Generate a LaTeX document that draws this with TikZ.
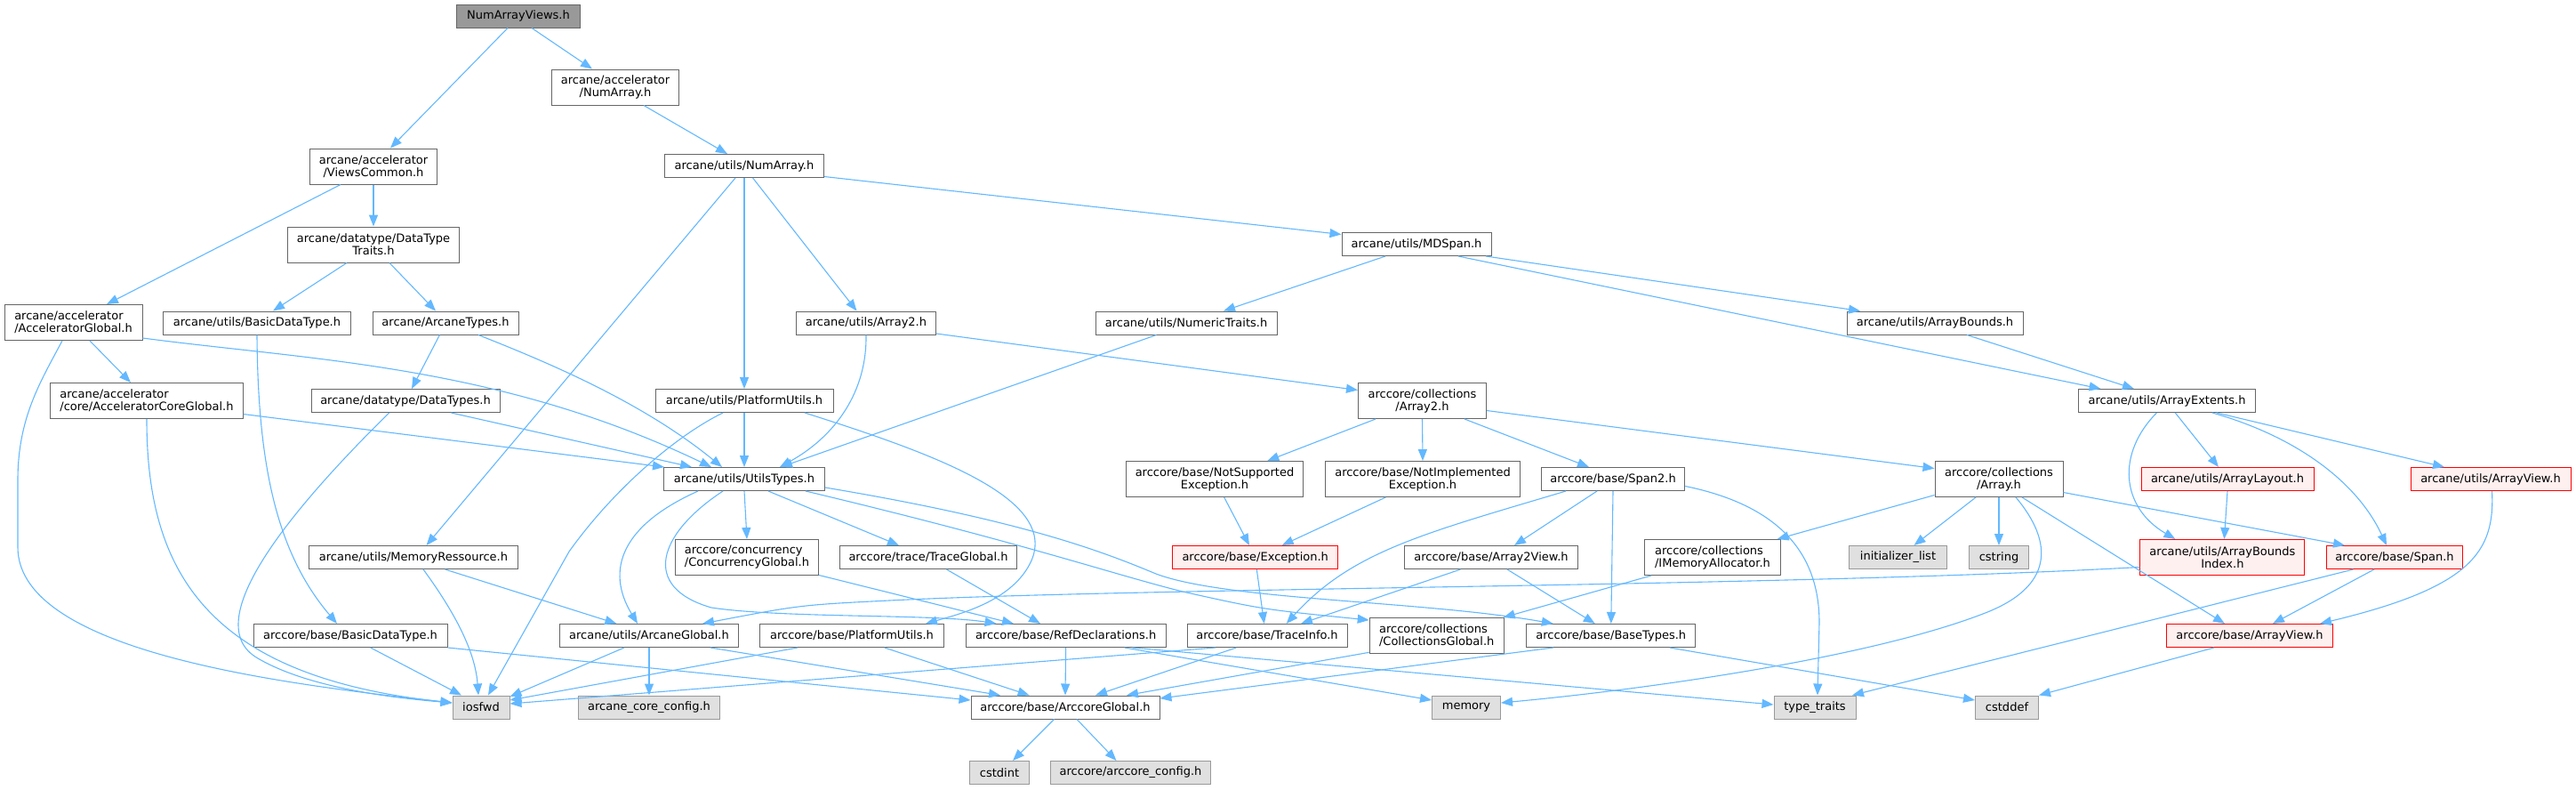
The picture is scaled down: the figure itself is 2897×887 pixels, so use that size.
\documentclass[tikz,border=0pt]{standalone}
\usepackage{fontspec}
\setmainfont{DejaVu Sans}
\usepackage{tikz}
\usetikzlibrary{arrows.meta}
\definecolor{incblue}{HTML}{63B8FF}
\definecolor{hdrline}{HTML}{666666}
\definecolor{sysline}{HTML}{999999}
\definecolor{sysfill}{HTML}{E0E0E0}
\definecolor{truncfill}{HTML}{FFF0F0}
\definecolor{rootfill}{HTML}{999999}

\begin{document}
\begin{tikzpicture}[x=1pt, y=-1pt,
  hdr/.style={draw=hdrline, fill=white, line width=1pt, inner sep=0pt, minimum height=26, font=\fontsize{13}{14}\selectfont},
  sys/.style={hdr, draw=sysline, fill=sysfill},
  trunc/.style={hdr, draw=red, fill=truncfill},
  root/.style={hdr, fill=rootfill},
  two/.style={minimum height=40, align=center},
  wd/.style={minimum width=#1},
  inc/.style={draw=incblue, line width=1.1pt, -{Triangle[length=13pt,width=10pt]}}]
  \useasboundingbox (0,0) rectangle (2897,887);

  \node[root, wd=139] (nav) at (583,18) {NumArrayViews.h};
  \node[hdr, wd=143, two] (ana) at (692,98) {arcane/accelerator\\/NumArray.h};
  \node[hdr, wd=143, two] (vc) at (420,187) {arcane/accelerator\\/ViewsCommon.h};
  \node[hdr, wd=179] (una) at (837,186.5) {arcane/utils/NumArray.h};
  \node[hdr, wd=193, two] (dtt) at (420,275) {arcane/datatype/DataType\\Traits.h};
  \node[hdr, wd=168] (mds) at (1593,274.5) {arcane/utils/MDSpan.h};
  \node[hdr, wd=155, two, align=left] (ag) at (82.5,362.5) {arcane/accelerator\\/AcceleratorGlobal.h};
  \node[hdr, wd=211] (ubdt) at (289,363) {arcane/utils/BasicDataType.h};
  \node[hdr, wd=164] (atyp) at (501,363) {arcane/ArcaneTypes.h};
  \node[hdr, wd=157] (ua2) at (974,363) {arcane/utils/Array2.h};
  \node[hdr, wd=204] (nt) at (1334,363) {arcane/utils/NumericTraits.h};
  \node[hdr, wd=198] (ab) at (2176,363) {arcane/utils/ArrayBounds.h};
  \node[hdr, wd=216.5, two, align=left] (acg) at (165,450.5) {arcane/accelerator\\/core/AcceleratorCoreGlobal.h};
  \node[hdr, wd=212] (dt) at (456,450.5) {arcane/datatype/DataTypes.h};
  \node[hdr, wd=200] (upu) at (837,450.5) {arcane/utils/PlatformUtils.h};
  \node[hdr, wd=144, two] (ca2) at (1599.5,450.5) {arccore/collections\\/Array2.h};
  \node[hdr, wd=199] (ae) at (2437,450.5) {arcane/utils/ArrayExtents.h};
  \node[hdr, wd=181] (ut) at (837,538.5) {arcane/utils/UtilsTypes.h};
  \node[hdr, wd=199, two] (nse) at (1366,538.5) {arccore/base/NotSupported\\Exception.h};
  \node[hdr, wd=219, two] (nie) at (1600,538.5) {arccore/base/NotImplemented\\Exception.h};
  \node[hdr, wd=161.5] (sp2) at (1814,538.5) {arccore/base/Span2.h};
  \node[hdr, wd=144, two] (ca) at (2248,538.5) {arccore/collections\\/Array.h};
  \node[trunc, wd=194] (al) at (2505,538.5) {arcane/utils/ArrayLayout.h};
  \node[trunc, wd=180] (uav) at (2801,538.5) {arcane/utils/ArrayView.h};
  \node[hdr, wd=235] (mr) at (465,626.5) {arcane/utils/MemoryRessource.h};
  \node[hdr, wd=161, two, align=left] (cg) at (840,626.5) {arccore/concurrency\\/ConcurrencyGlobal.h};
  \node[hdr, wd=199] (tg) at (1044,626.5) {arccore/trace/TraceGlobal.h};
  \node[trunc, wd=186] (exc) at (1411.7,626.5) {arccore/base/Exception.h};
  \node[hdr, wd=195] (a2v) at (1677,626.5) {arccore/base/Array2View.h};
  \node[hdr, wd=153, two, align=left] (ima) at (1926,626.5) {arccore/collections\\/IMemoryAllocator.h};
  \node[sys, wd=110.6] (il) at (2134.5,626.5) {initializer\_list};
  \node[sys, wd=66.6] (cstr) at (2248,626.5) {cstring};
  \node[trunc, wd=185, two] (abi) at (2499.4,626.5) {arcane/utils/ArrayBounds\\Index.h};
  \node[trunc, wd=153] (sp) at (2693,626.5) {arccore/base/Span.h};
  \node[hdr, wd=218] (cbdt) at (394,714.5) {arccore/base/BasicDataType.h};
  \node[hdr, wd=201] (arg) at (730,714.5) {arcane/utils/ArcaneGlobal.h};
  \node[hdr, wd=207] (cpu) at (958,714.5) {arccore/base/PlatformUtils.h};
  \node[hdr, wd=225] (rd) at (1198.6,714.5) {arccore/base/RefDeclarations.h};
  \node[hdr, wd=180] (ti) at (1425,714.5) {arccore/base/TraceInfo.h};
  \node[hdr, wd=151, two, align=left] (cg2) at (1615.7,714.5) {arccore/collections\\/CollectionsGlobal.h};
  \node[hdr, wd=190] (bt) at (1811.8,714.5) {arccore/base/BaseTypes.h};
  \node[trunc, wd=187] (cav) at (2530,714.5) {arccore/base/ArrayView.h};
  \node[sys, wd=64] (ios) at (541,795) {iosfwd};
  \node[sys, wd=159] (acc) at (730,795) {arcane\_core\_config.h};
  \node[hdr, wd=212] (arcg) at (1198,795) {arccore/base/ArccoreGlobal.h};
  \node[sys, wd=77] (mem) at (1649,795) {memory};
  \node[sys, wd=92] (tt) at (2041,795) {type\_traits};
  \node[sys, wd=71] (cdef) at (2257,795) {cstddef};
  \node[sys, wd=66.6] (cint) at (1124,868.5) {cstdint};
  \node[sys, wd=180] (aconf) at (1271.5,868.5) {arccore/arccore\_config.h};

  \draw[inc] ([xshift=-12]nav.south) -- ([xshift=19]vc.north);
  \draw[inc] ([xshift=15]nav.south) -- ([xshift=-26]ana.north);
  \draw[inc] ([xshift=32]ana.south) -- ([xshift=-19]una.north);
  \draw[inc] ([xshift=-37]vc.south) -- ([xshift=37.5]ag.north);
  \draw[inc] (vc.south) -- (dtt.north);
  \draw[inc] ([xshift=-30]dtt.south) -- ([xshift=18]ubdt.north);
  \draw[inc] ([xshift=18]dtt.south) -- ([xshift=-11]atyp.north);
  \draw[inc] ([xshift=18.5]ag.south) -- ([xshift=-18]acg.north);
  \draw[inc] ([xshift=-12.5]ag.south) .. controls (45,430) and (20,470) .. (20,540) -- (20,615) .. controls (20,735) and (330,770) .. ([yshift=5]ios.west);
  \draw[inc] ([yshift=-17.5]ag.east) .. controls (350,405) and (560,410) .. ([xshift=-37]ut.north);
  \draw[inc] (ubdt.south) .. controls (290,520) and (310,620) .. ([xshift=-15]cbdt.north);
  \draw[inc] ([xshift=-6.6]atyp.south) -- ([xshift=7]dt.north);
  \draw[inc] ([xshift=37]atyp.south) .. controls (610,405) and (720,450) .. ([xshift=-25]ut.north);
  \draw[inc] ([xshift=-10]una.south) -- ([xshift=14.5]mr.north);
  \draw[inc] (una.south) -- (upu.north);
  \draw[inc] ([xshift=9.6]una.south) -- ([xshift=-10.5]ua2.north);
  \draw[inc] ([yshift=-12]una.east) -- ([yshift=11]mds.west);
  \draw[inc] (ua2.south) .. controls (975,440) and (940,490) .. ([xshift=40]ut.north);
  \draw[inc] ([yshift=-12]ua2.east) -- ([yshift=12]ca2.west);
  \draw[inc] ([xshift=-35]mds.south) -- ([xshift=42]nt.north);
  \draw[inc] ([xshift=78]mds.south) -- ([xshift=-84]ab.north);
  \draw[inc] ([xshift=47]mds.south) -- ([xshift=-74.5]ae.north);
  \draw[inc] ([xshift=-33.5]nt.south) -- ([xshift=41]ut.north);
  \draw[inc] ([xshift=36]ab.south) -- ([xshift=-37]ae.north);
  \draw[inc] (acg.south) .. controls (165,640) and (230,760) .. ([yshift=5]ios.west);
  \draw[inc] ([yshift=-15]acg.east) -- ([xshift=-90]ut.north);
  \draw[inc] ([xshift=-18.4]dt.south) .. controls (330,570) and (220,700) .. (290,740) .. controls (350,775) and (450,785) .. ([yshift=5]ios.west);
  \draw[inc] ([xshift=51.4]dt.south) -- ([xshift=-59]ut.north);
  \draw[inc] (upu.south) -- (ut.north);
  \draw[inc] ([xshift=-24]upu.south) .. controls (760,490) and (690,550) .. (640,620) -- ([xshift=8]ios.north);
  \draw[inc] ([xshift=68]upu.south) .. controls (1050,510) and (1190,560) .. (1160,630) .. controls (1140,675) and (1080,690) .. ([xshift=83]cpu.north);
  \draw[inc] ([xshift=-52.5]ca2.south) -- ([xshift=59.3]nse.north);
  \draw[inc] (ca2.south) -- (nie.north);
  \draw[inc] ([xshift=47.5]ca2.south) -- ([xshift=-27]sp2.north);
  \draw[inc] ([yshift=-11]ca2.east) -- ([yshift=12]ca.west);
  \draw[inc] ([xshift=-11.6]ae.south) .. controls (2380,510) and (2385,570) .. ([xshift=-53]abi.north);
  \draw[inc] ([xshift=9.3]ae.south) -- ([xshift=-10]al.north);
  \draw[inc] ([xshift=51]ae.south) .. controls (2580,490) and (2650,540) .. ([xshift=-9]sp.north);
  \draw[inc] ([xshift=56]ae.south) -- ([xshift=-52]uav.north);
  \draw[inc] (ut.south) -- (cg.north);
  \draw[inc] ([xshift=27]ut.south) -- ([xshift=-33]tg.north);
  \draw[inc] ([xshift=-52]ut.south) .. controls (700,590) and (680,640) .. ([xshift=-13]arg.north);
  \draw[inc] ([xshift=-24]ut.south) .. controls (740,600) and (720,660) .. (800,683) .. controls (880,695) and (1050,690) .. ([xshift=-78]rd.north);
  \draw[inc] ([yshift=-9.5]ut.east) .. controls (1150,585) and (1240,620) .. (1300,645) .. controls (1380,675) and (1600,675) .. ([xshift=-65]bt.north);
  \draw[inc] ([xshift=69]ut.south) .. controls (1150,610) and (1250,645) .. (1330,665) .. controls (1420,685) .. ([yshift=17.5]cg2.west);
  \draw[inc] ([xshift=10.7]nse.south) -- ([xshift=-6.7]exc.north);
  \draw[inc] ([xshift=-41.7]nie.south) -- ([xshift=30]exc.north);
  \draw[inc] ([xshift=-53]sp2.south) .. controls (1600,600) and (1520,620) .. ([xshift=21.7]ti.north);
  \draw[inc] ([xshift=-18]sp2.south) -- ([xshift=26]a2v.north);
  \draw[inc] (sp2.south) -- (bt.north);
  \draw[inc] ([yshift=-8]sp2.east) .. controls (2010,570) and (2046,630) .. (2046,700) -- ([xshift=3]tt.north);
  \draw[inc] ([xshift=1.6]exc.south) -- ([xshift=-3.3]ti.north);
  \draw[inc] ([xshift=-34.5]a2v.south) -- ([xshift=38]ti.north);
  \draw[inc] ([xshift=18]a2v.south) -- ([xshift=-18]bt.north);
  \draw[inc] ([xshift=-69]ima.south) -- ([xshift=75]cg2.north);
  \draw[inc] ([yshift=-18]ca.west) -- ([xshift=72.6]ima.north);
  \draw[inc] ([xshift=-26]ca.south) -- ([xshift=18]il.north);
  \draw[inc] (ca.south) -- (cstr.north);
  \draw[inc] ([xshift=19]ca.south) .. controls (2310,610) and (2310,660) .. (2230,690) .. controls (2100,740) and (1850,775) .. ([yshift=5]mem.east);
  \draw[inc] ([xshift=26]ca.south) -- ([xshift=-28]cav.north);
  \draw[inc] ([yshift=-15]ca.east) -- ([xshift=-56]sp.north);
  \draw[inc] (al.south) -- ([xshift=2]abi.north);
  \draw[inc] ([yshift=-11]abi.west) .. controls (2000,660) and (1300,660) .. (1000,675) .. controls (900,680) .. ([xshift=60]arg.north);
  \draw[inc] ([xshift=-23]sp.south) -- ([xshift=26]cav.north);
  \draw[inc] ([xshift=-46.5]sp.south) -- ([xshift=42]tt.north);
  \draw[inc] ([xshift=1.5]uav.south) .. controls (2806,620) and (2780,660) .. ([xshift=79]cav.north);
  \draw[inc] ([xshift=-40]cav.south) -- (cdef.north east);
  \draw[inc] ([xshift=66]bt.south) -- ([yshift=8]cdef.west);
  \draw[inc] ([xshift=-65]bt.south) -- ([yshift=10]arcg.east);
  \draw[inc] ([yshift=-18.8]cg2.west) -- ([xshift=69]arcg.north);
  \draw[inc] ([xshift=-34.6]ti.south) -- ([xshift=34]arcg.north);
  \draw[inc] ([xshift=-58]ti.south) -- ([yshift=4]ios.east);
  \draw[inc] (rd.south) -- (arcg.north);
  \draw[inc] ([xshift=66]rd.south) -- ([yshift=8]mem.west);
  \draw[inc] ([xshift=75]rd.south) -- ([yshift=3]tt.west);
  \draw[inc] ([yshift=-20]cg.east) -- ([xshift=-58.6]rd.north);
  \draw[inc] ([xshift=20.5]tg.south) -- ([xshift=-28.6]rd.north);
  \draw[inc] ([xshift=36.7]cpu.south) -- ([xshift=-40.4]arcg.north);
  \draw[inc] ([xshift=-61]cpu.south) -- ([yshift=8]ios.east);
  \draw[inc] (arg.south) -- (acc.north);
  \draw[inc] ([xshift=-28]arg.south) -- ([yshift=12]ios.east);
  \draw[inc] ([xshift=69]arg.south) -- ([xshift=-73]arcg.north);
  \draw[inc] ([xshift=22.7]cbdt.south) -- ([xshift=-22]ios.north);
  \draw[inc] (cbdt.south east) -- ([yshift=8]arcg.west);
  \draw[inc] ([xshift=11]mr.south) .. controls (520,700) and (535,740) .. ([xshift=-3]ios.north);
  \draw[inc] ([xshift=35.5]mr.south) -- ([xshift=-36.6]arg.north);
  \draw[inc] ([xshift=-12.5]arcg.south) -- ([xshift=15]cint.north);
  \draw[inc] ([xshift=13]arcg.south) -- ([xshift=-16]aconf.north);
\end{tikzpicture}
\end{document}
